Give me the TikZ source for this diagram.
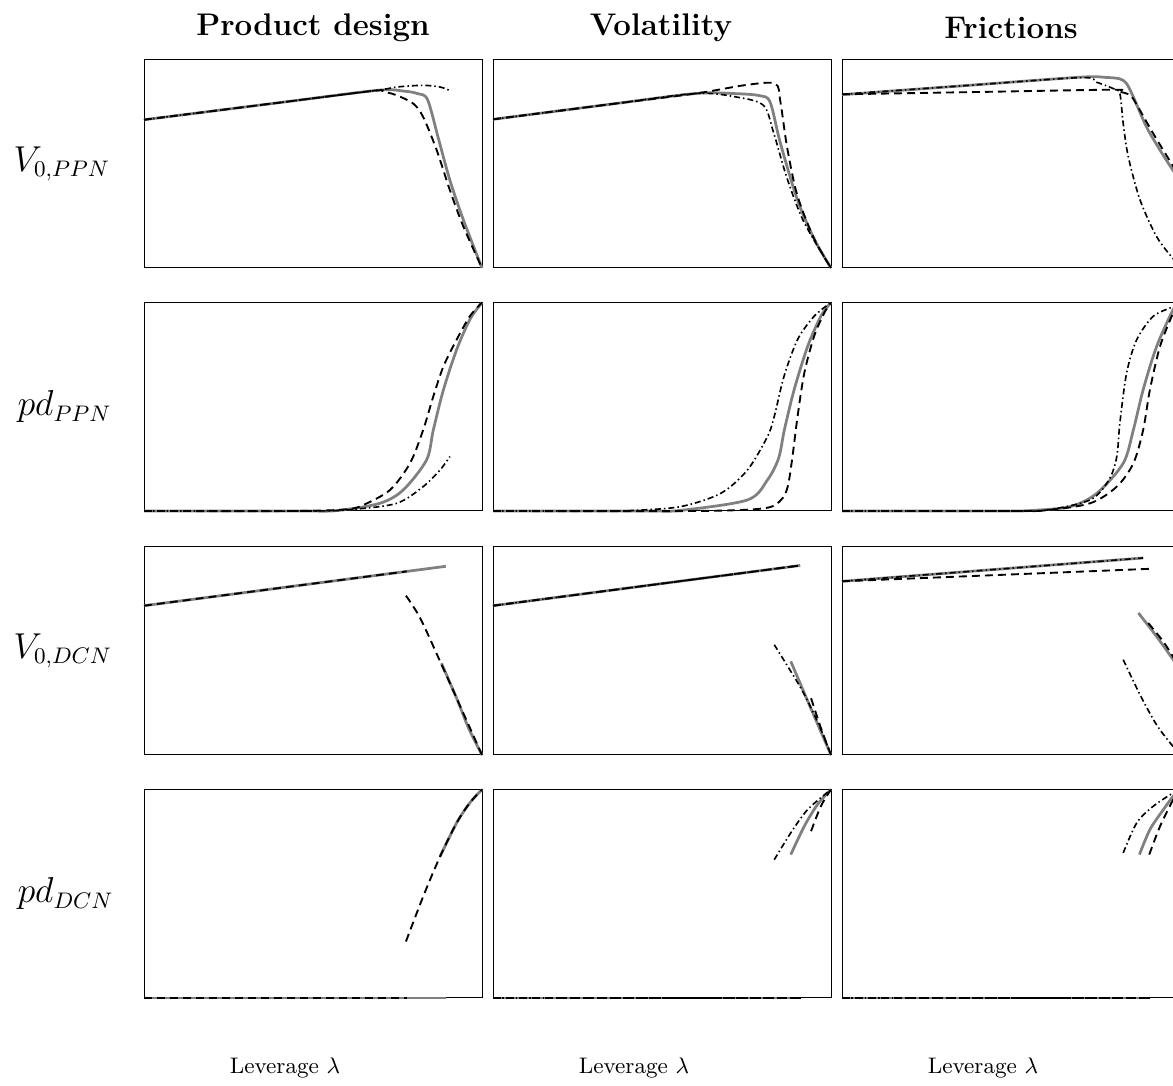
\documentclass[tikz,border=0pt]{standalone}
\usepackage{amsmath}
\usepackage{tikz}
\usetikzlibrary{calc}

\begin{document}
\begin{tikzpicture}[
        x=0.4pt, y=0.4pt,
        marco/.style={draw=black, line width=0.4pt},
        base/.style={gray, line width=1.1pt},
        alt/.style={black, line width=0.75pt, dash pattern=on 3.2pt off 2pt},
        altb/.style={black, line width=0.65pt, dash pattern=on 2.4pt off 1.2pt on 0.6pt off 1.2pt},
        titulo/.style={font=\fontsize{12.5}{15}\selectfont\bfseries},
        fila/.style={font=\fontsize{13.3}{16}\selectfont, anchor=west, inner sep=0pt},
        eje/.style={font=\fontsize{9}{11}\selectfont},
        panel/.style={x=135.2pt, y=83.4pt}
    ]
        \useasboundingbox (0,0) rectangle (1173,1086);
        \clip (0,0) rectangle (1173,1086);

        % Titulos de columnas
        \node[titulo] (tprod) at (313,1058) {Product design};
        \node[titulo] (tvol)  at (661,1058) {Volatility};
        \node[titulo] (tfric) at (1011,1058) {Frictions};

        % Etiquetas de filas
        \node[fila] (fvppn) at (13,922) {$V_{0,PPN}$};
        \node[fila] (fpppn) at (17,679) {$pd_{PPN}$};
        \node[fila] (fvdcn) at (13,435) {$V_{0,DCN}$};
        \node[fila] (fpdcn) at (17,192) {$pd_{DCN}$};

        % Ejes horizontales
        \foreach \x/\n in {285/a, 634/b, 983/c}
            \node[eje] (lev\n) at (\x,18) {Leverage $\lambda$};

        % Fila 1: V_{0,PPN}
        \begin{scope}[shift={(144,818)}, panel]
            \draw[marco] (0,0) rectangle (1,1);
            \draw[base] plot[smooth, tension=0.5] coordinates {(0,0.711) (0.40,0.793) (0.69,0.852) (0.77,0.848) (0.81,0.836) (0.839,0.807) (0.872,0.615) (0.905,0.421) (0.945,0.23) (1,0)};
            \draw[alt] plot[smooth, tension=0.5] coordinates {(0,0.711) (0.40,0.793) (0.68,0.85) (0.708,0.846) (0.748,0.828) (0.797,0.788) (0.826,0.724) (0.866,0.565) (0.905,0.373) (0.945,0.198) (1,0)};
            \draw[altb] plot[smooth, tension=0.5] coordinates {(0,0.711) (0.40,0.793) (0.688,0.852) (0.748,0.868) (0.826,0.876) (0.876,0.868) (0.903,0.852)};
        \end{scope}
        \begin{scope}[shift={(493,818)}, panel]
            \draw[marco] (0,0) rectangle (1,1);
            \draw[base] plot[smooth, tension=0.5] coordinates {(0,0.713) (0.35,0.786) (0.60,0.837) (0.72,0.836) (0.79,0.826) (0.82,0.795) (0.85,0.6) (0.9,0.33) (0.95,0.14) (1,0)};
            \draw[alt] plot[smooth, tension=0.5] coordinates {(0,0.713) (0.35,0.786) (0.60,0.837) (0.75,0.878) (0.835,0.884) (0.85,0.8) (0.87,0.58) (0.9,0.35) (0.95,0.14) (1,0)};
            \draw[altb] plot[smooth, tension=0.5] coordinates {(0,0.713) (0.35,0.786) (0.60,0.837) (0.72,0.82) (0.80,0.78) (0.83,0.65) (0.87,0.43) (0.92,0.22) (1,0)};
        \end{scope}
        \begin{scope}[shift={(842,818)}, panel]
            \draw[marco] (0,0) rectangle (1,1);
            \draw[base] plot[smooth, tension=0.5] coordinates {(0,0.831) (0.35,0.873) (0.704,0.915) (0.78,0.914) (0.822,0.907) (0.842,0.884) (0.862,0.82) (0.901,0.676) (0.941,0.565) (0.979,0.469) (1,0.42)};
            \draw[alt] plot[smooth, tension=0.5] coordinates {(0,0.833) (0.40,0.844) (0.803,0.855) (0.822,0.845) (0.845,0.835) (0.862,0.81) (0.921,0.644) (0.979,0.49) (1,0.44)};
            \draw[altb] plot[smooth, tension=0.5] coordinates {(0,0.833) (0.35,0.873) (0.704,0.913) (0.753,0.891) (0.803,0.86) (0.822,0.836) (0.832,0.692) (0.847,0.533) (0.882,0.325) (0.931,0.15) (0.979,0.046) (1,0.02)};
        \end{scope}

        % Fila 2: pd_{PPN}
        \begin{scope}[shift={(144,575)}, panel]
            \draw[marco] (0,0) rectangle (1,1);
            \draw[base] plot[smooth, tension=0.5] coordinates {(0,0) (0.45,0) (0.57,0.002) (0.698,0.037) (0.767,0.101) (0.836,0.245) (0.856,0.389) (0.886,0.582) (0.925,0.774) (0.964,0.918) (1,1)};
            \draw[alt] plot[smooth, tension=0.5] coordinates {(0,0) (0.45,0) (0.6,0.008) (0.649,0.029) (0.728,0.101) (0.787,0.229) (0.826,0.389) (0.856,0.55) (0.886,0.694) (0.925,0.822) (0.964,0.934) (1,1)};
            \draw[altb] plot[smooth, tension=0.5] coordinates {(0,0) (0.5,0) (0.62,0.008) (0.748,0.037) (0.826,0.117) (0.876,0.197) (0.905,0.261)};
        \end{scope}
        \begin{scope}[shift={(493,575)}, panel]
            \draw[marco] (0,0) rectangle (1,1);
            \draw[base] plot[smooth, tension=0.5] coordinates {(0,0) (0.45,0) (0.555,0.003) (0.753,0.053) (0.812,0.149) (0.845,0.253) (0.862,0.389) (0.891,0.582) (0.931,0.79) (0.97,0.934) (1,1)};
            \draw[alt] plot[smooth, tension=0.5] coordinates {(0,0) (0.6,0) (0.802,0.013) (0.852,0.053) (0.872,0.117) (0.886,0.261) (0.901,0.453) (0.921,0.662) (0.95,0.838) (0.98,0.95) (1,1)};
            \draw[altb] plot[smooth, tension=0.5] coordinates {(0,0) (0.3,0) (0.407,0.002) (0.555,0.021) (0.674,0.085) (0.753,0.197) (0.812,0.357) (0.832,0.453) (0.861,0.646) (0.901,0.822) (0.95,0.934) (1,1)};
        \end{scope}
        \begin{scope}[shift={(842,575)}, panel]
            \draw[marco] (0,0) rectangle (1,1);
            \draw[base] plot[smooth, tension=0.5] coordinates {(0,0) (0.45,0) (0.556,0.002) (0.675,0.021) (0.754,0.085) (0.832,0.229) (0.862,0.389) (0.891,0.582) (0.931,0.79) (0.98,0.966) (1,1)};
            \draw[alt] plot[smooth, tension=0.5] coordinates {(0,0) (0.5,0) (0.6,0.003) (0.734,0.037) (0.813,0.117) (0.862,0.229) (0.891,0.389) (0.911,0.582) (0.941,0.79) (0.98,0.95) (1,1)};
            \draw[altb] plot[smooth, tension=0.5] coordinates {(0,0) (0.5,0) (0.6,0.003) (0.734,0.053) (0.79,0.15) (0.813,0.261) (0.822,0.421) (0.842,0.662) (0.872,0.822) (0.921,0.934) (0.98,0.98) (1,1)};
        \end{scope}

        % Fila 3: V_{0,DCN}
        \begin{scope}[shift={(144,331)}, panel]
            \draw[marco] (0,0) rectangle (1,1);
            \draw[base] (0,0.716) -- (0.893,0.905);
            \draw[base] plot[smooth, tension=0.5] coordinates {(0.88,0.44) (0.925,0.272) (0.96,0.13) (1,0)};
            \draw[alt] (0,0.716) -- (0.777,0.8805);
            \draw[alt] plot[smooth, tension=0.5] coordinates {(0.775,0.764) (0.817,0.657) (0.876,0.449) (0.925,0.272) (1,0)};
        \end{scope}
        \begin{scope}[shift={(493,331)}, panel]
            \draw[marco] (0,0) rectangle (1,1);
            \draw[base] (0,0.716) -- (0.909,0.909);
            \draw[base] plot[smooth, tension=0.5] coordinates {(0.881,0.449) (0.94,0.225) (1,0)};
            \draw[alt] (0,0.716) -- (0.909,0.909);
            \draw[alt] plot[smooth, tension=0.5] coordinates {(0.941,0.272) (0.97,0.13) (1,0)};
            \draw[altb] (0,0.716) -- (0.909,0.909);
            \draw[altb] plot[smooth, tension=0.5] coordinates {(0.832,0.529) (0.911,0.32) (0.96,0.16) (1,0)};
        \end{scope}
        \begin{scope}[shift={(842,331)}, panel]
            \draw[marco] (0,0) rectangle (1,1);
            \draw[base] (0,0.833) -- (0.891,0.945);
            \draw[base] plot[smooth, tension=0.5] coordinates {(0.877,0.681) (0.93,0.57) (0.98,0.457) (1,0.41)};
            \draw[alt] (0,0.833) -- (0.913,0.893);
            \draw[alt] plot[smooth, tension=0.5] coordinates {(0.906,0.633) (0.95,0.545) (0.98,0.47) (1,0.42)};
            \draw[altb] (0,0.833) -- (0.891,0.945);
            \draw[altb] plot[smooth, tension=0.5] coordinates {(0.832,0.457) (0.882,0.288) (0.931,0.144) (0.98,0.04) (1,0.01)};
        \end{scope}

        % Fila 4: pd_{DCN}
        \begin{scope}[shift={(144,88)}, panel]
            \draw[marco] (0,0) rectangle (1,1);
            \draw[base] (0,0) -- (0.893,0);
            \draw[base] plot[smooth, tension=0.5] coordinates {(0.876,0.679) (0.925,0.84) (0.964,0.936) (1,1)};
            \draw[alt] (0,0) -- (0.777,0);
            \draw[alt] plot[smooth, tension=0.5] coordinates {(0.775,0.271) (0.826,0.487) (0.876,0.679) (0.925,0.84) (0.964,0.936) (1,1)};
        \end{scope}
        \begin{scope}[shift={(493,88)}, panel]
            \draw[marco] (0,0) rectangle (1,1);
            \draw[base] (0,0) -- (0.90,0);
            \draw[base] plot[smooth, tension=0.5] coordinates {(0.881,0.688) (0.921,0.824) (0.96,0.928) (1,1)};
            \draw[alt] (0,0) -- (0.917,0);
            \draw[alt] plot[smooth, tension=0.5] coordinates {(0.941,0.8) (0.97,0.92) (1,1)};
            \draw[altb] (0,0) -- (0.917,0);
            \draw[altb] plot[smooth, tension=0.5] coordinates {(0.832,0.663) (0.881,0.792) (0.931,0.904) (1,1)};
        \end{scope}
        \begin{scope}[shift={(842,88)}, panel]
            \draw[marco] (0,0) rectangle (1,1);
            \draw[base] (0,0) -- (0.90,0);
            \draw[base] plot[smooth, tension=0.5] coordinates {(0.88,0.688) (0.911,0.808) (0.951,0.904) (0.98,0.968) (1,1)};
            \draw[alt] (0,0) -- (0.913,0);
            \draw[alt] plot[smooth, tension=0.5] coordinates {(0.909,0.688) (0.941,0.824) (0.98,0.952) (1,1)};
            \draw[altb] (0,0) -- (0.913,0);
            \draw[altb] plot[smooth, tension=0.5] coordinates {(0.832,0.696) (0.872,0.84) (0.921,0.92) (0.98,0.984) (1,1)};
        \end{scope}
    \end{tikzpicture}
\end{document}
